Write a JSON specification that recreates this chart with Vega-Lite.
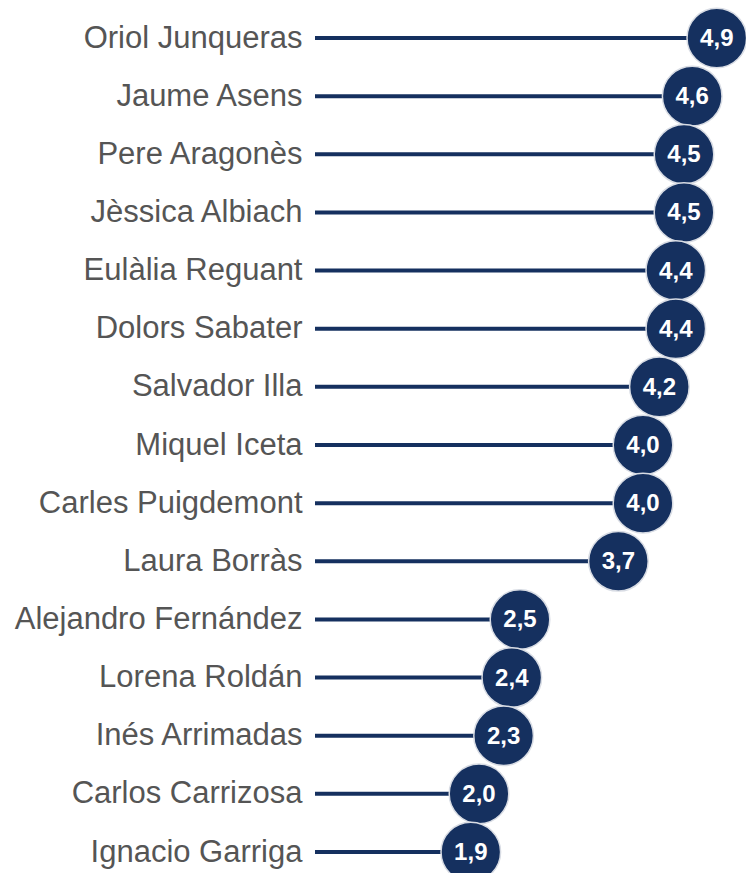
{
  "$schema": "https://vega.github.io/schema/vega-lite/v6.json",
  "width": 410,
  "height": 814,
  "autosize": {"type": "none"},
  "padding": {"left": 315, "top": 38, "right": 21, "bottom": 21},
  "background": "white",
  "config": {"view": {"stroke": null}},
  "data": {
    "values": [
      {"name": "Oriol Junqueras", "value": 4.9, "label": "4,9"},
      {"name": "Jaume Asens", "value": 4.6, "label": "4,6"},
      {"name": "Pere Aragonès", "value": 4.5, "label": "4,5"},
      {"name": "Jèssica Albiach", "value": 4.5, "label": "4,5"},
      {"name": "Eulàlia Reguant", "value": 4.4, "label": "4,4"},
      {"name": "Dolors Sabater", "value": 4.4, "label": "4,4"},
      {"name": "Salvador Illa", "value": 4.2, "label": "4,2"},
      {"name": "Miquel Iceta", "value": 4.0, "label": "4,0"},
      {"name": "Carles Puigdemont", "value": 4.0, "label": "4,0"},
      {"name": "Laura Borràs", "value": 3.7, "label": "3,7"},
      {"name": "Alejandro Fernández", "value": 2.5, "label": "2,5"},
      {"name": "Lorena Roldán", "value": 2.4, "label": "2,4"},
      {"name": "Inés Arrimadas", "value": 2.3, "label": "2,3"},
      {"name": "Carlos Carrizosa", "value": 2.0, "label": "2,0"},
      {"name": "Ignacio Garriga", "value": 1.9, "label": "1,9"}
    ]
  },
  "encoding": {
    "y": {
      "field": "name",
      "type": "nominal",
      "sort": null,
      "scale": {"type": "point", "padding": 0},
      "axis": {
        "title": null,
        "domain": false,
        "ticks": false,
        "labelFont": "Liberation Sans",
        "labelFontSize": 31,
        "labelColor": "#555555",
        "labelPadding": 13,
        "labelLimit": 400
      }
    },
    "x": {"field": "value", "type": "quantitative", "scale": {"domain": [0, 5], "nice": false}, "axis": null}
  },
  "layer": [
    {
      "mark": {"type": "rule", "color": "#15305f", "strokeWidth": 4},
      "encoding": {
        "x2": {"datum": 0}
      }
    },
    {
      "mark": {"type": "circle", "color": "#15305f", "opacity": 1, "size": 3550, "stroke": "#d8dce4", "strokeWidth": 1.5}
    },
    {
      "mark": {"type": "text", "color": "white", "font": "Liberation Sans", "fontWeight": "bold", "fontSize": 24, "baseline": "middle", "align": "center", "dy": 1},
      "encoding": {
        "text": {"field": "label"}
      }
    }
  ]
}
